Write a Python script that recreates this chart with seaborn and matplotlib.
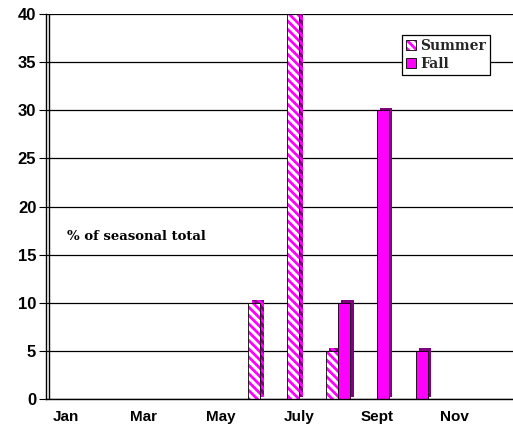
import numpy as np
import pandas as pd
import seaborn as sns
import matplotlib.pyplot as plt
import matplotlib.colors as mcolors
import matplotlib.patheffects as pe

months = ['Jan', 'Feb', 'Mar', 'Apr', 'May', 'June', 'July', 'Aug', 'Sept', 'Oct', 'Nov', 'Dec']
tick_labels = ['Jan', '', 'Mar', '', 'May', '', 'July', '', 'Sept', '', 'Nov', '']
summer = [0, 0, 0, 0, 0, 10, 40, 5, 0, 0, 0, 0]
fall = [0, 0, 0, 0, 0, 0, 0, 10, 30, 5, 0, 0]
seasons = ['Summer', 'Fall']

MAGENTA = '#FF00FF'
SIDE = '#800080'
HATCH = '\\\\\\\\'

df = pd.DataFrame({
    'month': months * 2,
    'pct': summer + fall,
    'season': ['Summer'] * 12 + ['Fall'] * 12,
})

sns.set_theme(style='white')
plt.rcParams['hatch.linewidth'] = 2.0

fig = plt.figure(figsize=(5.13, 4.30), dpi=100)
ax = fig.add_axes([46 / 513, 1 - 399 / 430, 1 - 46 / 513, 385 / 430])

sns.barplot(data=df, x='month', y='pct', hue='season', hue_order=seasons,
            order=months, palette=[MAGENTA, MAGENTA], saturation=1, width=0.62,
            edgecolor='black', linewidth=0.6, ax=ax, legend=False)

# fake 3D side/top with a shadow offset
shadow = [pe.SimplePatchShadow(offset=(2.6, 1.8), shadow_rgbFace=SIDE, alpha=1.0), pe.Normal()]
for i, cont in enumerate(ax.containers):
    for p in cont:
        p.set_path_effects(shadow)
        if seasons[i] == 'Summer':
            p.set_facecolor('white')
            p.set_hatch(HATCH)
            p._hatch_color = mcolors.to_rgba(MAGENTA)

ax.set_xlim(-0.5, 11.5)
ax.set_ylim(0, 40)
ax.set_yticks(np.arange(0, 41, 5))
ax.yaxis.grid(True, color='black', linewidth=0.9)
ax.set_axisbelow(True)

ax.set_xticks(range(12))
ax.set_xticklabels(tick_labels)
ax.set_xticks(np.arange(-0.5, 12, 1), minor=True)
ax.tick_params(axis='x', which='major', length=0, pad=8)
ax.tick_params(axis='x', which='minor', length=5, width=0.8, color='black', direction='out')
ax.tick_params(axis='y', length=5, width=0.8, color='black', direction='out', left=True, pad=2)
for lab in ax.get_xticklabels():
    lab.set_fontfamily('Liberation Sans')
    lab.set_fontweight('bold')
    lab.set_fontsize(11)
    lab.set_color('black')
for lab in ax.get_yticklabels():
    lab.set_fontfamily('Liberation Sans')
    lab.set_fontweight('bold')
    lab.set_fontsize(12)
    lab.set_color('black')

ax.set_xlabel('')
ax.set_ylabel('')
for s in ['top', 'right']:
    ax.spines[s].set_visible(False)
ax.spines['left'].set_color('black')
ax.spines['left'].set_linewidth(1.0)
ax.spines['bottom'].set_color('black')
ax.spines['bottom'].set_linewidth(1.0)
# back wall edge of the 3D frame
ax.axvline(-0.42, color='black', linewidth=1.0)

ax.text(0.045, 0.413, '% of seasonal total', transform=ax.transAxes,
        fontfamily='DejaVu Serif', fontweight='bold', fontsize=9.5, color='black')

handles = [plt.Rectangle((0, 0), 1, 1, facecolor='white', hatch=HATCH, edgecolor='black', linewidth=0.6),
           plt.Rectangle((0, 0), 1, 1, facecolor=MAGENTA, edgecolor='black', linewidth=0.6)]
handles[0]._hatch_color = mcolors.to_rgba(MAGENTA)
leg = ax.legend(handles, seasons, loc='upper right', bbox_to_anchor=(0.966, 0.964),
                frameon=True, fancybox=False, edgecolor='black', framealpha=1,
                handlelength=0.7, handleheight=0.7, handletextpad=0.3,
                borderpad=0.3, labelspacing=0.3,
                prop={'family': 'DejaVu Serif', 'weight': 'bold', 'size': 10})
leg.get_frame().set_linewidth(0.9)

fig.savefig('out.png', dpi=100)
